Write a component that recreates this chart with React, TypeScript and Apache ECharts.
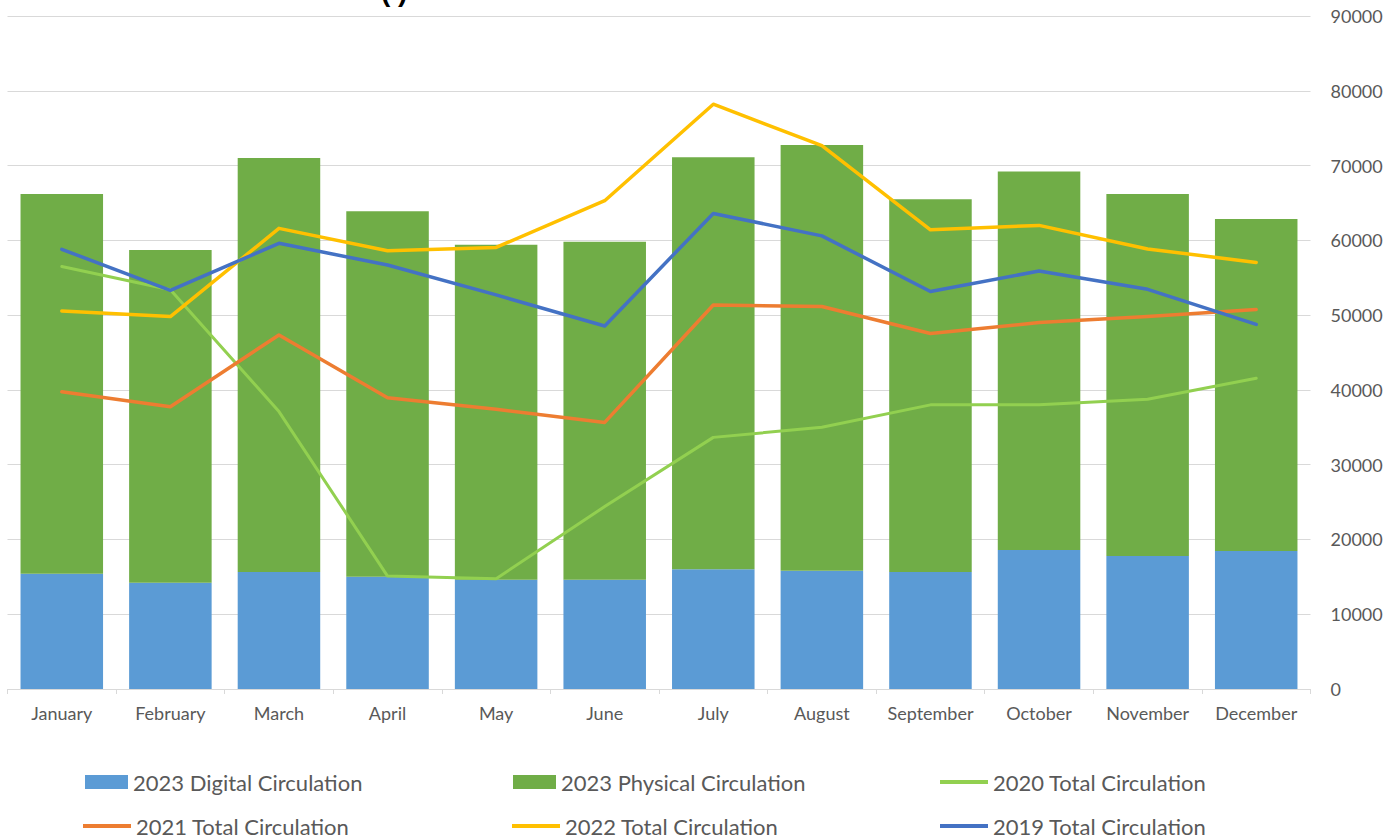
import React, { useEffect, useRef } from "react";
import * as echarts from "echarts";

const months = ["January", "February", "March", "April", "May", "June", "July", "August", "September", "October", "November", "December"];
const digital2023 = [15400, 14200, 15650, 15000, 14600, 14600, 16000, 15800, 15650, 18600, 17800, 18450];
const physical2023 = [50800, 44500, 55350, 48900, 44800, 45200, 55100, 56950, 49850, 50600, 48400, 44400];
const total2020 = [56500, 53400, 37100, 15100, 14750, 24400, 33650, 35000, 38000, 38000, 38750, 41550];
const total2021 = [39750, 37750, 47350, 38950, 37400, 35650, 51350, 51150, 47550, 49000, 49800, 50750];
const total2022 = [50550, 49800, 61600, 58600, 59050, 65300, 78200, 72650, 61400, 62000, 58850, 57050];
const total2019 = [58800, 53300, 59600, 56700, 52700, 48550, 63600, 60600, 53150, 55900, 53450, 48750];
const yTicks = { min: 0, max: 90000, interval: 10000 };

const FONT = "Lato";
const TXT = "#595959";

export default function App() {
  const ref = useRef<HTMLDivElement>(null);
  useEffect(() => {
    if (!ref.current) return;
    const chart = echarts.init(ref.current, undefined, { renderer: "svg" });
    const legendText = { color: TXT, fontFamily: FONT, fontSize: 22 };
    const mkLegend = (name: string, left: number, top: number, isBar: boolean) => ({
      data: [{ name, icon: "rect" }],
      left,
      top,
      orient: "horizontal",
      itemWidth: isBar ? 43 : 48,
      itemHeight: isBar ? 14 : 4,
      textStyle: legendText,
      selectedMode: false,
      padding: 0,
    });
    const lineSeries = (name: string, data: number[], color: string, width: number) => ({
      name,
      type: "line",
      data,
      symbol: "none",
      showSymbol: false,
      lineStyle: { color, width, cap: "round", join: "round" },
      itemStyle: { color },
      z: 3,
    });
    chart.setOption({
      animation: false,
      backgroundColor: "#ffffff",
      graphic: [
        {
          type: "text",
          left: 381,
          top: -23,
          style: { text: "( )", font: "bold 28px 'Liberation Sans'", fill: "#000000" },
        },
      ],
      grid: { left: 7.5, right: 84.5, top: 16, bottom: 151, containLabel: false },
      legend: [
        mkLegend("2023 Digital Circulation", 85, 771, true),
        mkLegend("2023 Physical Circulation", 513, 771, true),
        mkLegend("2020 Total Circulation", 940, 771, false),
        mkLegend("2021 Total Circulation", 83, 815, false),
        mkLegend("2022 Total Circulation", 512, 815, false),
        mkLegend("2019 Total Circulation", 940, 815, false),
      ],
      xAxis: {
        type: "category",
        data: months,
        boundaryGap: true,
        axisLine: { show: true, lineStyle: { color: "#d9d9d9", width: 1 } },
        axisTick: { show: true, length: 5, lineStyle: { color: "#d9d9d9" } },
        axisLabel: { color: TXT, fontFamily: FONT, fontSize: 18, margin: 15, interval: 0 },
        splitLine: { show: false },
      },
      yAxis: {
        type: "value",
        position: "right",
        min: yTicks.min,
        max: yTicks.max,
        interval: yTicks.interval,
        axisLine: { show: false },
        axisTick: { show: false },
        axisLabel: {
          color: TXT,
          fontFamily: FONT,
          fontSize: 18,
          margin: 20,
          formatter: (v: number) => String(v),
        },
        splitLine: { show: true, lineStyle: { color: "#d9d9d9", width: 1 } },
      },
      series: [
        {
          name: "2023 Digital Circulation",
          type: "bar",
          stack: "2023",
          data: digital2023,
          barCategoryGap: "24%",
          itemStyle: { color: "#5B9BD5" },
        },
        {
          name: "2023 Physical Circulation",
          type: "bar",
          stack: "2023",
          data: physical2023,
          barCategoryGap: "24%",
          itemStyle: { color: "#70AD47" },
        },
        lineSeries("2020 Total Circulation", total2020, "#92D050", 3),
        lineSeries("2021 Total Circulation", total2021, "#ED7D31", 3.5),
        lineSeries("2022 Total Circulation", total2022, "#FFC000", 3.5),
        lineSeries("2019 Total Circulation", total2019, "#4472C4", 3.5),
      ],
    });
    return () => chart.dispose();
  }, []);
  return (
    <div
      ref={ref}
      style={{ position: "fixed", left: 0, top: 0, width: 1395, height: 840, background: "#fff" }}
    />
  );
}
